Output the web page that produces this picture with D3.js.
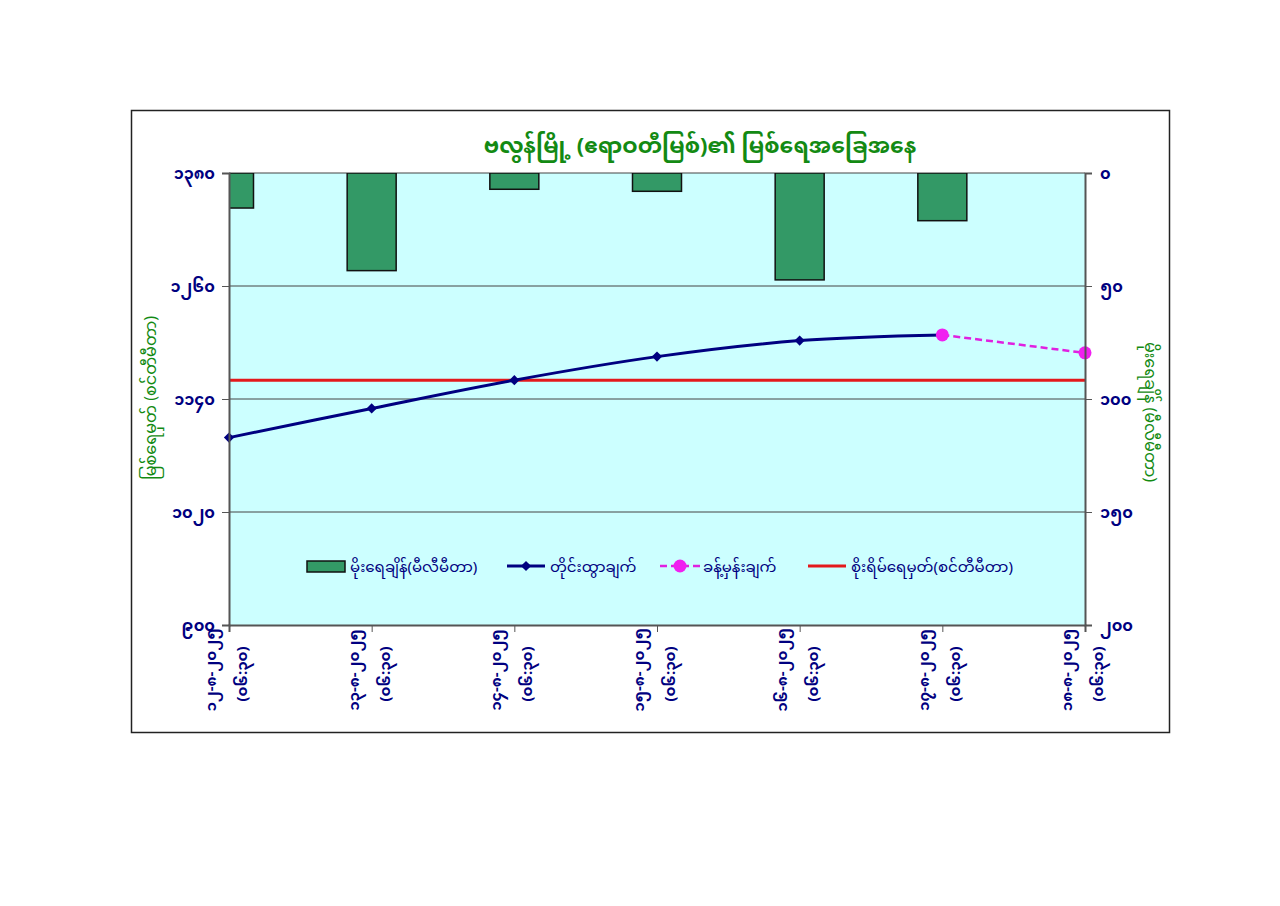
<!DOCTYPE html>
<html>
<head>
<meta charset="utf-8">
<script src="https://cdn.jsdelivr.net/npm/d3@7/dist/d3.min.js"></script>
<style>
  body { margin: 0; background: #fff; }
  text { font-family: "Noto Sans Myanmar", "Myanmar Text", Padauk, "Noto Sans", sans-serif; }
</style>
</head>
<body>
<div id="chart"></div>
<script>
const dateLabels = ["၁၂-၈-၂၀၂၅", "၁၃-၈-၂၀၂၅", "၁၄-၈-၂၀၂၅", "၁၅-၈-၂၀၂၅", "၁၆-၈-၂၀၂၅", "၁၇-၈-၂၀၂၅", "၁၈-၈-၂၀၂၅"]
const timeLabels = ["(၀၆:၃၀)", "(၀၆:၃၀)", "(၀၆:၃၀)", "(၀၆:၃၀)", "(၀၆:၃၀)", "(၀၆:၃၀)", "(၀၆:၃၀)"]

const rainfall = [15.5, 43.2, 7.2, 8.1, 47.3, 21.1, 0]
const measured = [1099, 1130, 1160, 1185, 1202, 1208, null]
const forecast = [null, null, null, null, null, 1208, 1189]
const dangerLevel = 1160

const levelTicks = [900, 1020, 1140, 1260, 1380]
const levelTickLabels = ["၉၀၀", "၁၀၂၀", "၁၁၄၀", "၁၂၆၀", "၁၃၈၀"]
const rainTicks = [0, 50, 100, 150, 200]
const rainTickLabels = ["၀", "၅၀", "၁၀၀", "၁၅၀", "၂၀၀"]

const titleText = "ဗလွန်မြို့ (ဧရာဝတီမြစ်)၏ မြစ်ရေအခြေအနေ"
const leftTitle = "မြစ်ရေမှတ် (စင်တီမီတာ)"
const rightTitle = "မိုးရေချိန် (မီလီမီတာ)"
const legendLabels = ["မိုးရေချိန်(မီလီမီတာ)", "တိုင်းထွာချက်", "ခန့်မှန်းချက်", "စိုးရိမ်ရေမှတ်(စင်တီမီတာ)"]

function draw() {
  const dimensions = {
    width: 1280,
    height: 906,
    margin: { top: 173, right: 195, bottom: 281, left: 229 },
    ctrWidth: 0,
    ctrHeight: 0
  }
  dimensions.ctrWidth = dimensions.width - dimensions.margin.left - dimensions.margin.right
  dimensions.ctrHeight = dimensions.height - dimensions.margin.top - dimensions.margin.bottom

  const navy = "#000080"
  const green = "#138a13"

  const svg = d3.select("#chart")
    .append("svg")
    .attr("width", dimensions.width)
    .attr("height", dimensions.height)

  // outer chart frame
  svg.append("rect")
    .attr("x", 131.5).attr("y", 110.5)
    .attr("width", 1038).attr("height", 622)
    .attr("fill", "#fff")
    .attr("stroke", "#222")
    .attr("stroke-width", 1.5)

  svg.append("text")
    .attr("x", 700).attr("y", 153)
    .attr("text-anchor", "middle")
    .attr("fill", green)
    .attr("font-size", 22)
    .attr("font-weight", "bold")
    .text(titleText)

  const ctr = svg.append("g")
    .attr("transform", `translate(${dimensions.margin.left}, ${dimensions.margin.top})`)

  const idx = d3.range(dateLabels.length)

  const xScale = d3.scalePoint()
    .domain(idx)
    .range([0, dimensions.ctrWidth])

  const yLevel = d3.scaleLinear()
    .domain([900, 1380])
    .range([dimensions.ctrHeight, 0])

  const yRain = d3.scaleLinear()
    .domain([0, 200])
    .range([0, dimensions.ctrHeight])

  ctr.append("rect")
    .attr("width", dimensions.ctrWidth)
    .attr("height", dimensions.ctrHeight)
    .attr("fill", "#ccffff")

  ctr.append("clipPath").attr("id", "plot-clip")
    .append("rect")
    .attr("width", dimensions.ctrWidth)
    .attr("height", dimensions.ctrHeight)

  // gridlines
  ctr.append("g")
    .selectAll("line")
    .data(levelTicks.slice(1))
    .join("line")
    .attr("x1", 0).attr("x2", dimensions.ctrWidth)
    .attr("y1", d => yLevel(d)).attr("y2", d => yLevel(d))
    .attr("stroke", "#444")
    .attr("stroke-width", 1)

  // rainfall bars hanging from the top
  const barW = 49
  ctr.append("g")
    .attr("clip-path", "url(#plot-clip)")
    .selectAll("rect")
    .data(idx.filter(i => rainfall[i] > 0))
    .join("rect")
    .attr("x", i => xScale(i) - barW / 2)
    .attr("y", 0)
    .attr("width", barW)
    .attr("height", i => yRain(rainfall[i]))
    .attr("fill", "#339966")
    .attr("stroke", "#111")
    .attr("stroke-width", 1.5)

  // danger level
  ctr.append("line")
    .attr("x1", 0).attr("x2", dimensions.ctrWidth)
    .attr("y1", yLevel(dangerLevel)).attr("y2", yLevel(dangerLevel))
    .attr("stroke", "#e3191c")
    .attr("stroke-width", 3)

  const lineGen = d3.line()
    .defined(i => i != null)
    .x(i => xScale(i))
    .curve(d3.curveCatmullRom)

  const measuredIdx = idx.filter(i => measured[i] != null)
  const forecastIdx = idx.filter(i => forecast[i] != null)

  ctr.append("path")
    .attr("d", lineGen.y(i => yLevel(measured[i]))(measuredIdx))
    .attr("fill", "none")
    .attr("stroke", navy)
    .attr("stroke-width", 3)

  // square turned 45 degrees, like Excel's diamond marker
  const diamond = d3.symbol().type(d3.symbolSquare).size(52)
  ctr.append("g")
    .selectAll("path")
    .data(measuredIdx)
    .join("path")
    .attr("d", diamond)
    .attr("transform", i => `translate(${xScale(i)}, ${yLevel(measured[i])}) rotate(45)`)
    .attr("fill", navy)

  ctr.append("path")
    .attr("d", lineGen.y(i => yLevel(forecast[i]))(forecastIdx))
    .attr("fill", "none")
    .attr("stroke", "#e020e0")
    .attr("stroke-width", 2.5)
    .attr("stroke-dasharray", "7,4")

  ctr.append("g")
    .selectAll("circle")
    .data(forecastIdx)
    .join("circle")
    .attr("cx", i => xScale(i))
    .attr("cy", i => yLevel(forecast[i]))
    .attr("r", 6.5)
    .attr("fill", "#f020f0")

  // axes
  const leftAxis = d3.axisLeft(yLevel)
    .tickValues(levelTicks)
    .tickFormat((d, i) => levelTickLabels[i])
    .tickSize(7)
    .tickPadding(7)

  const rightAxis = d3.axisRight(yRain)
    .tickValues(rainTicks)
    .tickFormat((d, i) => rainTickLabels[i])
    .tickSize(7)
    .tickPadding(8)

  const bottomAxis = d3.axisBottom(xScale)
    .tickFormat(() => "")
    .tickSize(7)

  const styleAxis = g => {
    g.selectAll(".domain").attr("stroke", "#555").attr("stroke-width", 2)
    g.selectAll(".tick line").attr("stroke", "#555")
    g.selectAll(".tick text")
      .attr("fill", navy)
      .attr("font-size", 16)
      .attr("font-weight", "bold")
  }

  ctr.append("g").call(leftAxis).call(styleAxis)
  ctr.append("g")
    .attr("transform", `translate(${dimensions.ctrWidth}, 0)`)
    .call(rightAxis).call(styleAxis)
  ctr.append("g")
    .attr("transform", `translate(0, ${dimensions.ctrHeight})`)
    .call(bottomAxis).call(styleAxis)

  // rotated two-line category labels
  const xl = ctr.append("g")
    .selectAll("g")
    .data(idx)
    .join("g")
    .attr("transform", i => `translate(${xScale(i)}, ${dimensions.ctrHeight + 45})`)
  xl.append("text")
    .attr("transform", "translate(-13, 0) rotate(-90)")
    .attr("text-anchor", "middle")
    .attr("fill", navy)
    .attr("font-size", 15)
    .attr("font-weight", "bold")
    .text(i => dateLabels[i])
  xl.append("text")
    .attr("transform", "translate(18, 4) rotate(-90)")
    .attr("text-anchor", "middle")
    .attr("fill", navy)
    .attr("font-size", 15)
    .attr("font-weight", "bold")
    .text(i => timeLabels[i])

  svg.append("text")
    .attr("transform", "translate(156, 398) rotate(-90)")
    .attr("text-anchor", "middle")
    .attr("fill", green)
    .attr("font-size", 16)
    .text(leftTitle)

  svg.append("text")
    .attr("transform", "translate(1145, 412) rotate(90)")
    .attr("text-anchor", "middle")
    .attr("fill", green)
    .attr("font-size", 16)
    .text(rightTitle)

  // legend
  const legendX = [78, 278, 431, 579]
  const legendY = 393
  const lg = ctr.append("g")
    .selectAll("g")
    .data(legendLabels)
    .join("g")
    .attr("transform", (d, i) => `translate(${legendX[i]}, ${legendY})`)

  lg.append("text")
    .attr("x", 43)
    .attr("y", 6)
    .attr("fill", navy)
    .attr("font-size", 15)
    .text(d => d)

  lg.filter((d, i) => i === 0).append("rect")
    .attr("x", 0).attr("y", -5)
    .attr("width", 38).attr("height", 11)
    .attr("fill", "#339966")
    .attr("stroke", "#111")
    .attr("stroke-width", 1.5)

  lg.filter((d, i) => i === 1).append("line")
    .attr("x1", 0).attr("x2", 38)
    .attr("stroke", navy).attr("stroke-width", 3)
  lg.filter((d, i) => i === 1).append("path")
    .attr("d", diamond)
    .attr("transform", "translate(19, 0) rotate(45)")
    .attr("fill", navy)

  lg.filter((d, i) => i === 2).append("line")
    .attr("x1", 0).attr("x2", 40)
    .attr("stroke", "#e020e0").attr("stroke-width", 2.5)
    .attr("stroke-dasharray", "7,4")
  lg.filter((d, i) => i === 2).append("circle")
    .attr("cx", 20).attr("r", 6.5)
    .attr("fill", "#f020f0")

  lg.filter((d, i) => i === 3).append("line")
    .attr("x1", 0).attr("x2", 38)
    .attr("stroke", "#e3191c").attr("stroke-width", 3)
}

draw()
</script>
</body>
</html>
